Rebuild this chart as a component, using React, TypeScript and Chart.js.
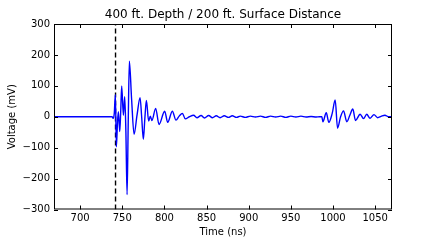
import React, { useEffect, useRef } from "react";
import { Chart, registerables } from "chart.js";

Chart.register(...registerables);

const titleText = "400 ft. Depth / 200 ft. Surface Distance";
const xLabel = "Time (ns)";
const yLabel = "Voltage (mV)";

const xTicks = [700, 750, 800, 850, 900, 950, 1000, 1050];
const yTicks = [-300, -200, -100, 0, 100, 200, 300];
const xMin = 669;
const xMax = 1070;
const yMin = -300;
const yMax = 300;
const markerTime = 742;

const times = [
  669, 680, 690, 700, 710, 720, 730, 735, 737.9, 739.1, 740.5, 741.8, 743.0, 744.3, 745.4, 747.0, 748.2, 749.3,
  751.3, 752.9, 754.3, 755.7, 757.0, 758.4, 761.0, 764.0, 767.5, 771.1, 773.0, 775.0, 776.8, 778.6, 781.3,
  783.3, 785.2, 789.6, 793.6, 800.3, 803.9, 809.4, 813.7, 817.5, 821.3, 824.8, 829.5, 834.6, 838.6, 843.5,
  847.5, 852.5, 857.0, 861.5, 866.0, 871.0, 876.0, 880.5, 885.5, 890.0, 896.0, 902.0, 908.0, 914.0, 920.0,
  926.0, 932.0, 938.0, 944.0, 950.0, 956.0, 962.0, 968.0, 974.0, 980.0, 984.0, 986.8, 988.0, 992.0, 995.1,
  999.0, 1002.6, 1005.4, 1009.0, 1012.5, 1016.4, 1020.0, 1023.5, 1026.7, 1032.2, 1036.2, 1040.0, 1044.0,
  1048.6, 1053.0, 1057.0, 1061.6, 1066.0, 1070.0,
];

const voltages = [
  0, 0, 0, 0, 0, 0, 0, 0, 0, -5, 10, 72, -97, -20, 16, -48, 20, 100,
  5, 65, -50, -252, -30, 180, 60, -57, 5, 62, 0, -73, -5, 53, -14,
  2, -12, 27, -25, 18, -18, 18, -11, 2, 11, -7, 0, 5, -3, 4,
  -4, 4, -3, 3, -3, 3, -2, 3, -2, 2, -2, 2, -1, 2, -2,
  2, -1, 2, -2, 2, -1, 2, -1, 1, -1, 0, 0, -16, 13, -18,
  10, 54, -37, 0, 19, -16, 5, 25, -12, 8, -6, 8, -5,
  7, -3, 1, 5, 0, 0,
];

export default function App() {
  const ref = useRef<HTMLCanvasElement | null>(null);

  useEffect(() => {
    document.body.style.margin = "0";
    const canvas = ref.current;
    if (!canvas) return;

    const framePlugin = {
      id: "frameAndText",
      afterDraw(chart: any) {
        const ctx = chart.ctx;
        const a = chart.chartArea;
        const xs = chart.scales.x;
        const ys = chart.scales.y;
        ctx.save();
        ctx.strokeStyle = "#000";
        ctx.lineWidth = 1;
        ctx.strokeRect(a.left + 0.5, a.top + 0.5, a.right - a.left - 1, a.bottom - a.top - 1);
        const tl = 4;
        ctx.beginPath();
        for (const v of xTicks) {
          const px = Math.round(xs.getPixelForValue(v)) + 0.5;
          ctx.moveTo(px, a.bottom);
          ctx.lineTo(px, a.bottom - tl);
          ctx.moveTo(px, a.top);
          ctx.lineTo(px, a.top + tl);
        }
        for (const v of yTicks) {
          const py = Math.round(ys.getPixelForValue(v)) + 0.5;
          ctx.moveTo(a.left, py);
          ctx.lineTo(a.left + tl, py);
          ctx.moveTo(a.right, py);
          ctx.lineTo(a.right - tl, py);
        }
        ctx.stroke();

        ctx.fillStyle = "#000";
        ctx.textAlign = "center";
        ctx.textBaseline = "alphabetic";
        ctx.font = "12px 'DejaVu Sans'";
        ctx.fillText(titleText, (a.left + a.right) / 2, 18.3);
        ctx.font = "10px 'DejaVu Sans'";
        ctx.textBaseline = "middle";
        ctx.fillText(xLabel, (a.left + a.right) / 2, 232);
        ctx.translate(12.5, (a.top + a.bottom) / 2);
        ctx.rotate(-Math.PI / 2);
        ctx.fillText(yLabel, 0, 0);
        ctx.restore();
      },
    };

    const chart = new Chart(canvas, {
      type: "line",
      data: {
        datasets: [
          {
            data: times.map((t, i) => ({ x: t, y: voltages[i] })),
            borderColor: "#0000ff",
            borderWidth: 1.4,
            pointRadius: 0,
            cubicInterpolationMode: "monotone",
            fill: false,
          },
          {
            data: [
              { x: markerTime, y: yMin },
              { x: markerTime, y: yMax },
            ],
            borderColor: "#000",
            borderWidth: 1.4,
            borderDash: [5, 3],
            pointRadius: 0,
            fill: false,
          },
        ],
      },
      plugins: [framePlugin],
      options: {
        responsive: false,
        animation: false,
        layout: { padding: { left: 0, right: 44, top: 24, bottom: 0 } },
        plugins: { legend: { display: false }, title: { display: false }, tooltip: { enabled: false } },
        scales: {
          x: {
            type: "linear",
            min: xMin,
            max: xMax,
            grid: { display: false, drawTicks: false },
            border: { display: false },
            afterBuildTicks: (s: any) => {
              s.ticks = xTicks.map((v) => ({ value: v }));
            },
            afterFit: (s: any) => {
              s.height = 30.5;
            },
            ticks: {
              padding: 3,
              color: "#000",
              font: { family: "'DejaVu Sans'", size: 10 },
              maxRotation: 0,
              callback: (v: any) => String(v),
            },
          },
          y: {
            type: "linear",
            min: yMin,
            max: yMax,
            grid: { display: false, drawTicks: false },
            border: { display: false },
            afterBuildTicks: (s: any) => {
              s.ticks = yTicks.map((v) => ({ value: v }));
            },
            afterFit: (s: any) => {
              s.width = 54;
            },
            ticks: {
              padding: 4,
              color: "#000",
              font: { family: "'DejaVu Sans'", size: 10 },
              callback: (v: any) => String(v).replace("-", "\u2212"),
            },
          },
        },
      },
    } as any);

    return () => chart.destroy();
  }, []);

  return (
    <div style={{ position: "absolute", left: 0, top: 0, width: 436, height: 240 }}>
      <canvas ref={ref} width={436} height={240} style={{ width: 436, height: 240 }} />
    </div>
  );
}
